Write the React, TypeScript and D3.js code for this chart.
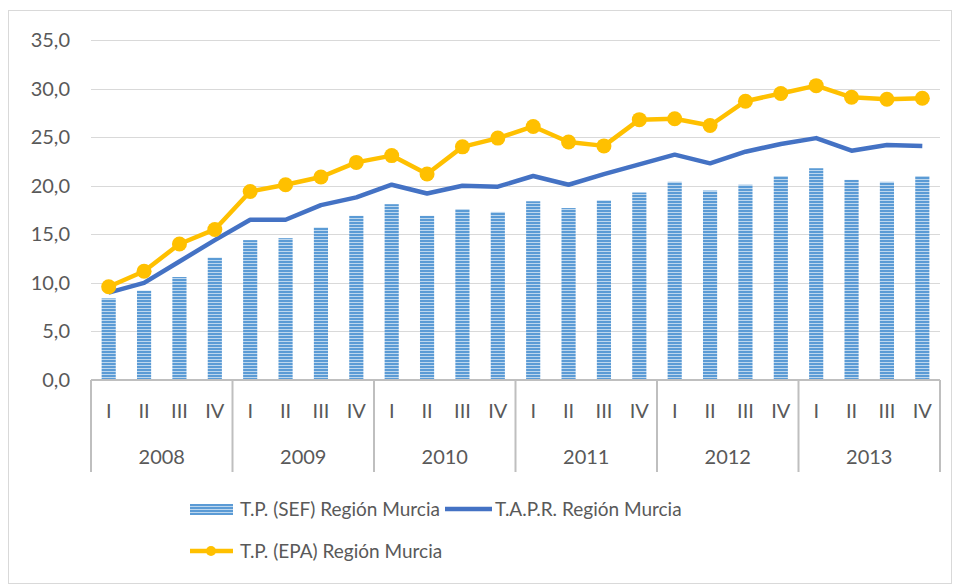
import React, { useEffect, useRef } from "react";
import * as d3 from "d3";

const years = ["2008", "2009", "2010", "2011", "2012", "2013"];
const quarters = ["I", "II", "III", "IV"];

const sefValues = [
  8.4, 9.2, 10.6, 12.6,
  14.4, 14.6, 15.7, 16.9,
  18.1, 16.9, 17.6, 17.3,
  18.4, 17.7, 18.5, 19.3,
  20.4, 19.5, 20.1, 21.0,
  21.8, 20.6, 20.4, 21.0,
];
const taprValues = [
  9.0, 10.0, 12.2, 14.4,
  16.5, 16.5, 18.0, 18.8,
  20.1, 19.2, 20.0, 19.9,
  21.0, 20.1, 21.2, 22.2,
  23.2, 22.3, 23.5, 24.3,
  24.9, 23.6, 24.2, 24.1,
];
const epaValues = [
  9.6, 11.2, 14.0, 15.5,
  19.4, 20.1, 20.9, 22.4,
  23.1, 21.2, 24.0, 24.9,
  26.1, 24.5, 24.1, 26.8,
  26.9, 26.2, 28.7, 29.5,
  30.3, 29.1, 28.9, 29.0,
];
const yTicks = [0, 5, 10, 15, 20, 25, 30, 35];
const seriesNames = [
  "T.P. (SEF) Región Murcia",
  "T.A.P.R. Región Murcia",
  "T.P. (EPA) Región Murcia",
];

const W = 958;
const H = 585;
const FONT = "Lato, 'Open Sans', sans-serif";

export default function App() {
  const ref = useRef<SVGSVGElement>(null);

  useEffect(() => {
    const svg = d3.select(ref.current);
    svg.selectAll("*").remove();

    const left = 91, right = 940, top = 40, bottom = 380;
    const keys = years.flatMap((y) => quarters.map((q) => y + "-" + q));

    const x = d3.scaleBand().domain(keys).range([left, right]).paddingInner(0.6).paddingOuter(0.3);
    const xc = (i: number) => (x(keys[i]) as number) + x.bandwidth() / 2;
    const y = d3.scaleLinear().domain([0, 35]).range([bottom, top]);

    // stripes for the bars
    const defs = svg.append("defs");
    const pat = defs.append("pattern")
      .attr("id", "stripes")
      .attr("patternUnits", "userSpaceOnUse")
      .attr("width", 6).attr("height", 3);
    pat.append("rect").attr("width", 6).attr("height", 3).attr("fill", "#BDD7EE");
    pat.append("rect").attr("width", 6).attr("height", 2).attr("fill", "#5B9BD5");

    svg.append("rect")
      .attr("x", 8.5).attr("y", 10.5).attr("width", 943).attr("height", 573)
      .attr("fill", "white").attr("stroke", "#D9D9D9");

    // gridlines + y labels
    svg.append("g").selectAll("line")
      .data(yTicks.filter((t) => t > 0))
      .join("line")
      .attr("x1", left).attr("x2", right)
      .attr("y1", (d) => Math.round(y(d)) + 0.5).attr("y2", (d) => Math.round(y(d)) + 0.5)
      .attr("stroke", "#D9D9D9");

    svg.append("g").selectAll("text")
      .data(yTicks)
      .join("text")
      .attr("x", 70).attr("y", (d) => y(d))
      .attr("dy", "0.35em")
      .attr("text-anchor", "end")
      .attr("font-family", FONT).attr("font-size", 20).attr("fill", "#595959")
      .text((d) => d3.format(".1f")(d).replace(".", ","));

    // bars
    svg.append("g").selectAll("rect")
      .data(sefValues)
      .join("rect")
      .attr("x", (_, i) => x(keys[i]) as number)
      .attr("width", x.bandwidth())
      .attr("y", (d) => y(d))
      .attr("height", (d) => bottom - y(d))
      .attr("fill", "url(#stripes)");

    // category axis
    const ax = svg.append("g").attr("stroke", "#BFBFBF").attr("stroke-width", 2);
    ax.append("line").attr("x1", left).attr("x2", right).attr("y1", bottom).attr("y2", bottom);
    const yearEdges = d3.range(years.length + 1).map((j) =>
      j === 0 ? left : j === years.length ? right : ((x(keys[j * 4 - 1]) as number) + x.bandwidth() + (x(keys[j * 4]) as number)) / 2
    );
    ax.selectAll("line.sep")
      .data(yearEdges)
      .join("line")
      .attr("class", "sep")
      .attr("x1", (d) => d).attr("x2", (d) => d)
      .attr("y1", bottom).attr("y2", 472);

    svg.append("g").selectAll("text")
      .data(keys)
      .join("text")
      .attr("x", (_, i) => xc(i)).attr("y", 418)
      .attr("text-anchor", "middle")
      .attr("font-family", FONT).attr("font-size", 20).attr("fill", "#595959")
      .text((_, i) => quarters[i % 4]);

    svg.append("g").selectAll("text")
      .data(years)
      .join("text")
      .attr("x", (_, j) => (yearEdges[j] + yearEdges[j + 1]) / 2).attr("y", 464)
      .attr("text-anchor", "middle")
      .attr("font-family", FONT).attr("font-size", 20).attr("fill", "#595959")
      .text((d) => d);

    // lines
    const line = d3.line<number>().x((_, i) => xc(i)).y((d) => y(d));
    svg.append("path").datum(taprValues)
      .attr("d", line).attr("fill", "none")
      .attr("stroke", "#4472C4").attr("stroke-width", 4.5).attr("stroke-linejoin", "round");
    svg.append("path").datum(epaValues)
      .attr("d", line).attr("fill", "none")
      .attr("stroke", "#FFC000").attr("stroke-width", 4.5).attr("stroke-linejoin", "round");
    svg.append("g").selectAll("circle")
      .data(epaValues)
      .join("circle")
      .attr("cx", (_, i) => xc(i)).attr("cy", (d) => y(d)).attr("r", 7.5)
      .attr("fill", "#FFC000");

    // legend
    const lg = svg.append("g").attr("font-family", FONT).attr("font-size", 19).attr("fill", "#595959");
    lg.append("rect").attr("x", 190).attr("y", 504).attr("width", 43).attr("height", 11).attr("fill", "url(#stripes)");
    lg.append("text").attr("x", 240).attr("y", 509).attr("dy", "0.35em").text(seriesNames[0]);
    lg.append("line").attr("x1", 445).attr("x2", 492).attr("y1", 509).attr("y2", 509)
      .attr("stroke", "#4472C4").attr("stroke-width", 4.5);
    lg.append("text").attr("x", 495).attr("y", 509).attr("dy", "0.35em").text(seriesNames[1]);
    lg.append("line").attr("x1", 190).attr("x2", 233).attr("y1", 551).attr("y2", 551)
      .attr("stroke", "#FFC000").attr("stroke-width", 4.5);
    lg.append("circle").attr("cx", 211).attr("cy", 551).attr("r", 5).attr("fill", "#FFC000");
    lg.append("text").attr("x", 240).attr("y", 551).attr("dy", "0.35em").text(seriesNames[2]);
  }, []);

  return (
    <svg
      ref={ref}
      width={W}
      height={H}
      style={{ position: "absolute", left: 0, top: 0, background: "white" }}
    />
  );
}
